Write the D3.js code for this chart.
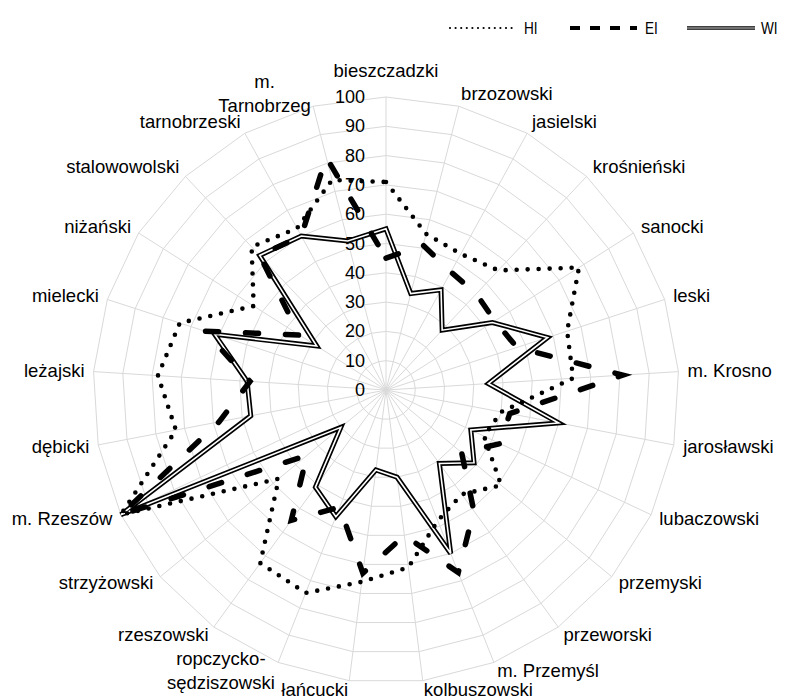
<!DOCTYPE html>
<html><head><meta charset="utf-8">
<script src="https://cdn.jsdelivr.net/npm/d3@7"></script>
<style>body{margin:0;background:#fff} text{font-family:"Liberation Sans",Arial,sans-serif;fill:#000}</style>
</head><body><svg id="c" width="792" height="700"></svg>
<script>
const categories = ["bieszczadzki","brzozowski","jasielski","krośnieński","sanocki","leski","m. Krosno","jarosławski","lubaczowski","przemyski","przeworski","m. Przemyśl","kolbuszowski","łańcucki","ropczycko-sędziszowski","rzeszowski","strzyżowski","m. Rzeszów","dębicki","leżajski","mielecki","niżański","stalowowolski","tarnobrzeski","m. Tarnobrzeg"];
const labelLines = {"m. Tarnobrzeg":["m.","Tarnobrzeg"],"ropczycko-sędziszowski":["ropczycko-","sędziszowski"]};
const HI = [71,55,53,56,78,65,64,40,37,51,44,48,61,66,74.5,73,47.5,100,73,78,74,53.5,67,63,74];
const EI = [45,51,46,45,44,47,81,43,43,33.5,51,67,50,63,43,55,35,100,58,46.5,65,35,63,60,82];
const WI = [55,34,39,28,43,58,35,60,32,39,31,60,30,27.5,46.5,41,20,100,47,47.5,61.5,28,63,60,52.5];
const ticks = [0,10,20,30,40,50,60,70,80,90,100];
const seriesNames = ["HI","EI","WI"];

const cx=386, cy=390, R=293;
const svg=d3.select("#c");
const n=categories.length;
const angle=d3.scaleLinear().domain([0,n]).range([0,2*Math.PI]);
const r=d3.scaleLinear().domain([0,100]).range([0,R]);
const g=svg.append("g").attr("transform",`translate(${cx},${cy})`);

const gridLine=d3.lineRadial().angle((d,i)=>angle(i)).curve(d3.curveLinearClosed);
ticks.forEach(t=>{
  g.append("path").attr("d",gridLine.radius(r(t))(categories))
   .attr("fill","none").attr("stroke","#d9d9d9").attr("stroke-width",1);
});
categories.forEach((c,i)=>{
  const a=angle(i);
  g.append("line").attr("x1",0).attr("y1",0)
   .attr("x2",r(100)*Math.sin(a)).attr("y2",-r(100)*Math.cos(a))
   .attr("stroke","#d9d9d9").attr("stroke-width",1);
});
ticks.forEach(t=>{
  g.append("text").attr("x",-21).attr("y",-r(t)).attr("text-anchor","end")
   .attr("dominant-baseline","central").attr("font-size",18).text(t);
});

const line=d3.lineRadial().angle((d,i)=>angle(i)).radius(d=>r(d)).curve(d3.curveLinearClosed);
g.append("path").attr("d",line(WI)).attr("fill","none").attr("stroke","#000").attr("stroke-width",5).attr("stroke-linejoin","miter");
g.append("path").attr("d",line(WI)).attr("fill","none").attr("stroke","#fff").attr("stroke-width",1.6).attr("stroke-linejoin","miter");
g.append("path").attr("d",line(EI)).attr("fill","none").attr("stroke","#000").attr("stroke-width",5.5)
 .attr("stroke-dasharray","13 27").attr("stroke-linecap","round");
g.append("path").attr("d",line(HI)).attr("fill","none").attr("stroke","#000").attr("stroke-width",4.6)
 .attr("stroke-dasharray","0 11").attr("stroke-linecap","round");

const Rl=R+9, lh=24, fs=18.5;
categories.forEach((c,i)=>{
  const a=angle(i), s=Math.sin(a), co=Math.cos(a);
  const lines=labelLines[c]||[c];
  const t=g.append("text").attr("font-size",fs).attr("text-anchor","middle");
  lines.forEach(l=>t.append("tspan").attr("x",0).text(l));
  const w=t.node().getBBox().width, h=lines.length*lh;
  let xc, yc;
  const px=Rl*s, py=-Rl*co;
  if(Math.abs(s)<0.05){ xc=px; yc=py - Math.sign(co)*(22/2+7); }
  else { xc = px + Math.sign(s)*w/2; yc = py - 4*Math.max(co,0); }
  t.selectAll("tspan").attr("x",xc).attr("y",(d,k)=>yc - h/2 + lh/2 + k*lh).attr("dominant-baseline","central");
});

const lg=svg.append("g");
const items=[{x:450,w:62,tx:524},{x:570,w:67,tx:645},{x:687,w:68,tx:761}];
seriesNames.forEach((nm,i)=>{
  const it=items[i], y=28;
  if(nm==="HI"){
    lg.append("line").attr("x1",it.x).attr("x2",it.x+it.w).attr("y1",y).attr("y2",y)
      .attr("stroke","#000").attr("stroke-width",2.2).attr("stroke-dasharray","0 5.6").attr("stroke-linecap","round");
  } else if(nm==="EI"){
    lg.append("line").attr("x1",it.x).attr("x2",it.x+it.w).attr("y1",y).attr("y2",y)
      .attr("stroke","#000").attr("stroke-width",4).attr("stroke-dasharray","10 10");
  } else {
    lg.append("line").attr("x1",it.x).attr("x2",it.x+it.w).attr("y1",y).attr("y2",y).attr("stroke","#000").attr("stroke-width",3.6);
    lg.append("line").attr("x1",it.x).attr("x2",it.x+it.w).attr("y1",y).attr("y2",y).attr("stroke","#999").attr("stroke-width",1.4);
  }
  lg.append("text").attr("transform",`translate(${it.tx},${y}) scale(0.8,1)`)
    .attr("dominant-baseline","central").attr("font-size",17).text(nm);
});
</script></body></html>
